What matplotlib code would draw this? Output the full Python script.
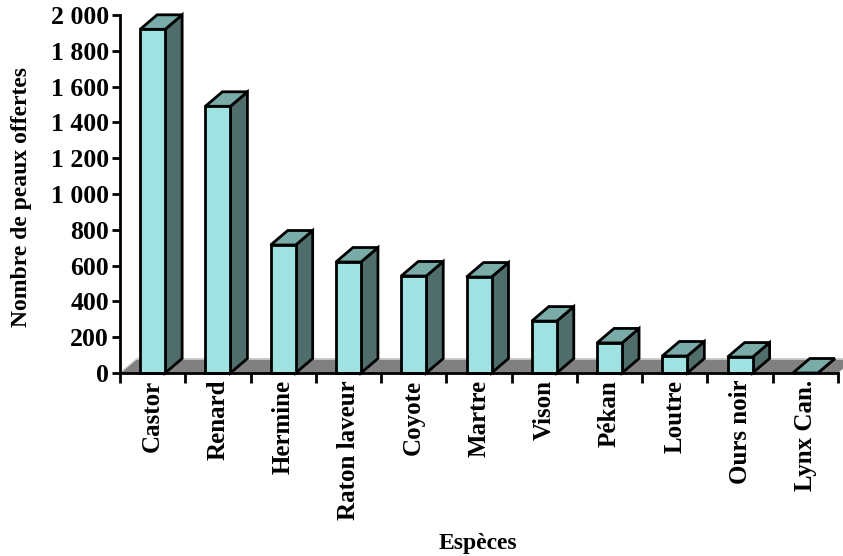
import matplotlib
matplotlib.use('Agg')
import matplotlib.pyplot as plt
from matplotlib.patches import Polygon
from matplotlib.ticker import FuncFormatter, FixedLocator

# Data
especes = ["Castor", "Renard", "Hermine", "Raton laveur", "Coyote", "Martre",
           "Vison", "Pékan", "Loutre", "Ours noir", "Lynx Can."]
peaux = [1920, 1490, 715, 620, 542, 536, 290, 168, 95, 89, 0]
yticks = [0, 200, 400, 600, 800, 1000, 1200, 1400, 1600, 1800, 2000]

# Colours
c_front = "#a0e1e1"
c_side = "#4e6d6b"
c_top = "#79aba8"
c_floor = "#808080"

plt.rcParams['font.family'] = ['Liberation Serif', 'DejaVu Serif']
plt.rcParams['font.weight'] = 'bold'

fig = plt.figure(figsize=(8.43, 5.56), dpi=100)
ax = fig.add_axes([120 / 843, 1 - 373 / 556, 718 / 843, 358 / 556])
n = len(especes)
ax.set_xlim(0, n)
ax.set_ylim(0, 2000)

# 3D depth offset converted from pixels to data units
px_x = 718 / n
px_y = 358 / 2000
dx = 17 / px_x
dy = 14.5 / px_y

# floor
floor = Polygon([(0, 0), (n, 0), (n + dx, dy), (dx, dy)], closed=True,
                facecolor=c_floor, edgecolor="none", zorder=1, clip_on=False)
ax.add_patch(floor)
ax.plot([dx, n + dx], [dy, dy], color="#d0d0d0", lw=1.2, zorder=1.5, clip_on=False)
ax.plot([0, dx], [0, dy], color="#d0d0d0", lw=1.0, zorder=1.5, clip_on=False)

w = 25 / px_x
for i, h in enumerate(peaux):
    x0 = i + 0.5 - w / 2
    x1 = x0 + w
    kw = dict(closed=True, edgecolor="black", lw=2, joinstyle="miter",
              zorder=3 + i * 0.01, clip_on=False)
    side = Polygon([(x1, 0), (x1 + dx, dy), (x1 + dx, h + dy), (x1, h)],
                   facecolor=c_side, **kw)
    top = Polygon([(x0, h), (x1, h), (x1 + dx, h + dy), (x0 + dx, h + dy)],
                  facecolor=c_top, **kw)
    ax.add_patch(side)
    ax.add_patch(top)
    if h > 0:
        front = Polygon([(x0, 0), (x1, 0), (x1, h), (x0, h)],
                        facecolor=c_front, **kw)
        ax.add_patch(front)

# axes styling
for s in ["top", "right"]:
    ax.spines[s].set_visible(False)
ax.spines["left"].set_linewidth(2)
ax.spines["bottom"].set_linewidth(2)
ax.spines["bottom"].set_zorder(5)

ax.yaxis.set_major_locator(FixedLocator(yticks))
ax.yaxis.set_major_formatter(FuncFormatter(lambda v, p: f"{int(v):,}".replace(",", " ")))
ax.tick_params(axis="y", direction="out", length=6, width=2, labelsize=18.5, pad=2)

ax.set_xticks(range(n + 1))
ax.set_xticklabels([])
ax.set_xticks([i + 0.5 for i in range(n)], minor=True)
ax.set_xticklabels(especes, minor=True, rotation=90, fontsize=18, fontweight="bold")
ax.tick_params(axis="x", which="major", direction="out", length=7, width=2)
ax.tick_params(axis="x", which="minor", length=0, pad=5)

for lab in ax.get_yticklabels():
    lab.set_fontweight("bold")

fig.text(22 / 843, 1 - 197 / 556, "Nombre de peaux offertes", rotation=90,
         ha="center", va="center", fontsize=17, fontweight="bold")
fig.text(478 / 843, 1 - 543 / 556, "Espèces", ha="center", va="center",
         fontsize=17, fontweight="bold")

fig.savefig("out.png", dpi=100)
